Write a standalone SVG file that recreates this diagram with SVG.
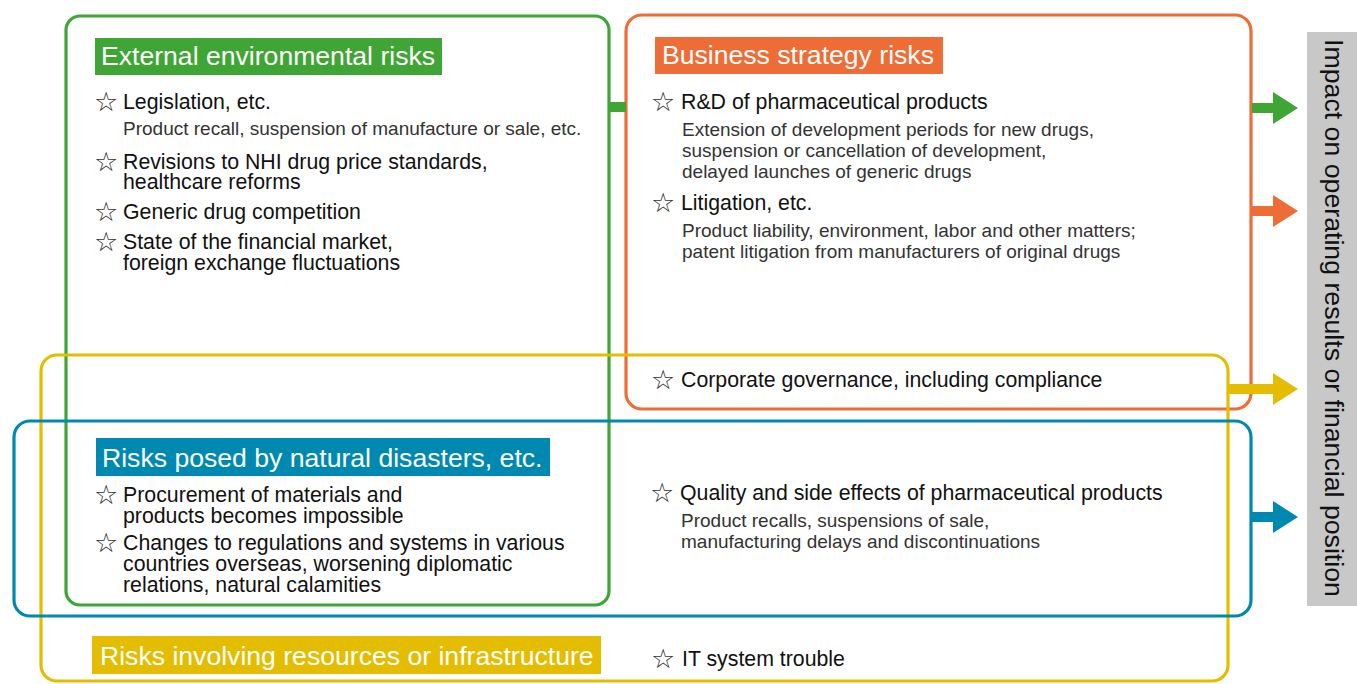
<svg xmlns="http://www.w3.org/2000/svg" width="1357" height="684" viewBox="0 0 1357 684">
<style>
.box{fill:none;stroke-width:3.2}
.t{font-family:"Liberation Sans",Arial,sans-serif;font-size:21.3px;fill:#111}
.s{font-family:"Liberation Sans",Arial,sans-serif;font-size:19px;fill:#333}
.h{font-family:"Liberation Sans",Arial,sans-serif;font-size:26.6px;fill:#fff}
.st{font-family:"DejaVu Sans",sans-serif;font-size:27px;fill:#333}
.side{font-family:"Liberation Sans",Arial,sans-serif;font-size:26.7px;fill:#111}
</style>
<rect width="1357" height="684" fill="#fff"/>

<g id="impact">
<rect x="1307" y="32" width="50" height="574" fill="#c8c8c8"/>
<text class="side" transform="translate(1325,318) rotate(90)" text-anchor="middle">Impact on operating results or financial position</text>
</g>

<g id="external">
<rect class="box" x="66" y="16" width="543" height="589" rx="14" stroke="#3fa535"/>
<rect x="95" y="38" width="347" height="37" fill="#3fa535"/>
<text class="h" x="101" y="65">External environmental risks</text>
<text class="st" x="94" y="111">☆</text><text class="t" x="123" y="109">Legislation, etc.</text>
<text class="s" x="123" y="135">Product recall, suspension of manufacture or sale, etc.</text>
<text class="st" x="94" y="171">☆</text><text class="t" x="123" y="169">Revisions to NHI drug price standards,</text>
<text class="t" x="123" y="189">healthcare reforms</text>
<text class="st" x="94" y="221">☆</text><text class="t" x="123" y="219">Generic drug competition</text>
<text class="st" x="94" y="251">☆</text><text class="t" x="123" y="249">State of the financial market,</text>
<text class="t" x="123" y="270">foreign exchange fluctuations</text>
</g>

<g id="business">
<rect class="box" x="626" y="15" width="625" height="394" rx="16" stroke="#ee6c35"/>
<rect x="655" y="37" width="288" height="37" fill="#ee6c35"/>
<text class="h" x="662" y="64">Business strategy risks</text>
<text class="st" x="651" y="111">☆</text><text class="t" x="681" y="109">R&amp;D of pharmaceutical products</text>
<text class="s" x="682" y="136">Extension of development periods for new drugs,</text>
<text class="s" x="682" y="157">suspension or cancellation of development,</text>
<text class="s" x="682" y="178">delayed launches of generic drugs</text>
<text class="st" x="651" y="212">☆</text><text class="t" x="681" y="210">Litigation, etc.</text>
<text class="s" x="682" y="237">Product liability, environment, labor and other matters;</text>
<text class="s" x="682" y="258">patent litigation from manufacturers of original drugs</text>
</g>

<g id="resources">
<rect class="box" x="41" y="355" width="1187" height="326" rx="16" stroke="#e4bd00"/>
<rect x="92" y="636" width="509" height="38" fill="#e4bd00"/>
<text class="h" x="100" y="665">Risks involving resources or infrastructure</text>
<text class="st" x="651" y="389">☆</text><text class="t" x="681" y="387">Corporate governance, including compliance</text>
<text class="st" x="651" y="668">☆</text><text class="t" x="682" y="666">IT system trouble</text>
</g>

<g id="natural">
<rect class="box" x="14" y="421" width="1237" height="195" rx="16" stroke="#0089b0"/>
<rect x="96" y="438" width="454" height="38" fill="#0089b0"/>
<text class="h" x="102" y="467">Risks posed by natural disasters, etc.</text>
<text class="st" x="94" y="504">☆</text><text class="t" x="123" y="502">Procurement of materials and</text>
<text class="t" x="123" y="523">products becomes impossible</text>
<text class="st" x="94" y="552">☆</text><text class="t" x="123" y="550">Changes to regulations and systems in various</text>
<text class="t" x="123" y="571">countries overseas, worsening diplomatic</text>
<text class="t" x="123" y="592">relations, natural calamities</text>
<text class="st" x="650" y="502">☆</text><text class="t" x="680" y="500">Quality and side effects of pharmaceutical products</text>
<text class="s" x="681" y="527">Product recalls, suspensions of sale,</text>
<text class="s" x="681" y="548">manufacturing delays and discontinuations</text>
</g>

<g id="connectors">
<rect x="609" y="102" width="17" height="10" fill="#3fa535"/>
<path d="M1252 103 H1273 V92 L1298 108 L1273 124 V113 H1252 Z" fill="#3fa535"/>
<path d="M1252 206 H1273 V195 L1298 211 L1273 227 V216 H1252 Z" fill="#ee6c35"/>
<path d="M1229 384 H1273 V373 L1298 389 L1273 405 V394 H1229 Z" fill="#e4bd00"/>
<path d="M1252 512 H1273 V501 L1298 517 L1273 533 V522 H1252 Z" fill="#0089b0"/>
</g>
</svg>
